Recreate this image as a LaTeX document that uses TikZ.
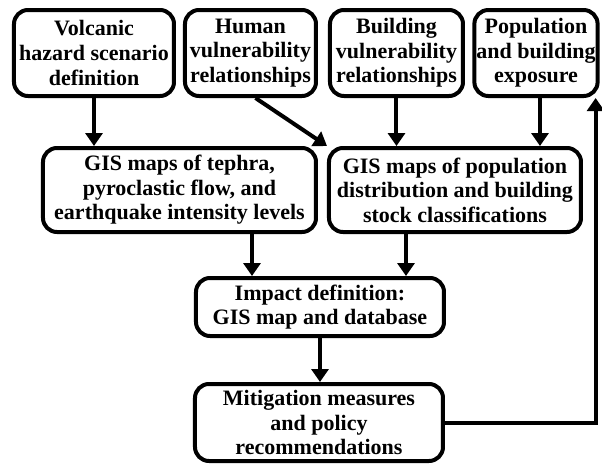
\documentclass[tikz,border=0pt]{standalone}
\usepackage{fontspec}
\setmainfont{Liberation Serif}
\usetikzlibrary{calc}
\usetikzlibrary{arrows.meta}
\tikzset{
   box/.style={draw=black, line width=2pt, rounded corners=7pt, align=center,
      inner sep=1pt, font=\rmfamily\bfseries\fontsize{11}{12.3}\selectfont},
   flow/.style={line width=2pt, sharp corners, line join=miter,
      -{Triangle[length=6.5pt,width=8.5pt]}},
    }
\begin{document}
\begin{tikzpicture}
        [x={(0.5pt,0pt)},y={(0pt,-0.5pt)}]
        \useasboundingbox (0,0) rectangle (602,467);
        % top row
        \node[box,minimum width=80pt,minimum height=43pt] (vhs) at (94,53)
            {Volcanic\\hazard scenario\\definition};
        \node[box,minimum width=65.5pt,minimum height=43pt] (hvr) at (250.5,53)
            {Human\\vulnerability\\relationships};
        \node[box,minimum width=66.5pt,minimum height=43pt] (bvr) at (396.5,53)
            {Building\\vulnerability\\relationships};
        \node[box,minimum width=61pt,minimum height=43pt] (pbe) at (536,53)
            {Population\\and building\\exposure};
        % GIS maps
        \node[box,minimum width=136.5pt,minimum height=42pt] (gish) at (179.5,190)
            {GIS maps of tephra,\\pyroclastic flow, and\\earthquake intensity levels};
        \node[box,minimum width=126pt,minimum height=42pt] (gisp) at (455,190)
            {GIS maps of population\\distribution and building\\stock classifications};
        % impact and mitigation
        \node[box,minimum width=124pt,minimum height=29pt] (imp) at (320,307)
            {Impact definition:\\GIS map and database};
        \node[box,minimum width=124pt,minimum height=38.5pt] (mit) at (319,422.5)
            {Mitigation measures\\and policy\\recommendations};
        \coordinate (ia) at ([xshift=-34pt]imp.north);
        \coordinate (ib) at ([xshift=43pt]imp.north);

        % arrows
        \draw[flow] (vhs.south) -- (vhs.south |- gish.north);
        \draw[flow] ([xshift=2.5pt]hvr.south) -- (gisp.north west);
        \draw[flow] (bvr.south) -- (bvr.south |- gisp.north);
        \draw[flow] ([xshift=2pt]pbe.south) -- ([xshift=2pt]pbe.south |- gisp.north);
        \draw[flow] (gish.south -| ia) -- (ia);
        \draw[flow] (gisp.south -| ib) -- (ib);
        \draw[flow] (imp.south) -- (imp.south |- mit.north);
        % feedback
        \draw[flow] (mit.east) -| ([xshift=-2pt]pbe.south east);

        \end{tikzpicture}
\end{document}
